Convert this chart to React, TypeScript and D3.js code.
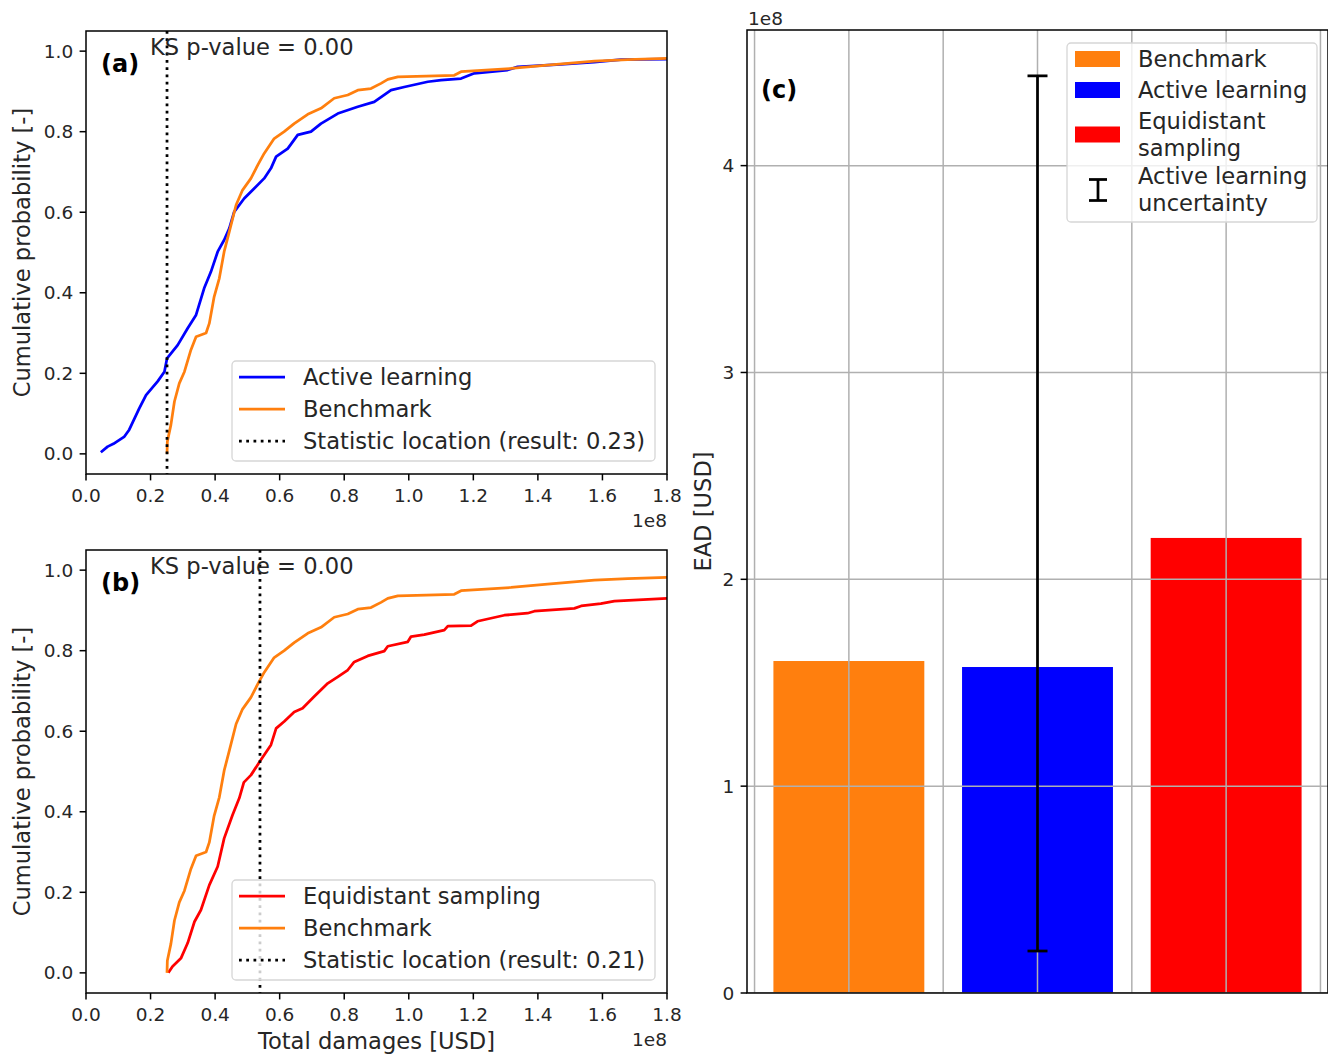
import React from "react";
import * as d3 from "d3";

// ---------- DATA ----------
// Empirical CDFs: [total damages (1e8 USD), cumulative probability]
const activeLearning: [number, number][] = [
  [0.046, 0.004], [0.067, 0.018], [0.085, 0.025], [0.119, 0.043], [0.134, 0.06],
  [0.165, 0.113], [0.186, 0.146], [0.222, 0.18], [0.243, 0.204], [0.251, 0.237],
  [0.284, 0.27], [0.315, 0.312], [0.341, 0.345], [0.366, 0.411], [0.387, 0.452],
  [0.408, 0.502], [0.428, 0.531], [0.444, 0.56], [0.459, 0.601], [0.49, 0.634],
  [0.521, 0.659], [0.552, 0.684], [0.573, 0.709], [0.589, 0.738], [0.625, 0.758],
  [0.656, 0.792], [0.697, 0.8], [0.728, 0.82], [0.78, 0.845], [0.842, 0.862],
  [0.893, 0.874], [0.945, 0.903], [0.986, 0.911], [1.059, 0.924], [1.1, 0.928],
  [1.162, 0.932], [1.203, 0.945], [1.306, 0.953], [1.337, 0.961], [1.471, 0.967],
  [1.575, 0.973], [1.657, 0.979], [1.8, 0.98],
];

const benchmark: [number, number][] = [
  [0.251, 0.0], [0.252, 0.03], [0.263, 0.072], [0.274, 0.13], [0.289, 0.175],
  [0.305, 0.204], [0.325, 0.258], [0.341, 0.291], [0.372, 0.3], [0.382, 0.324],
  [0.397, 0.39], [0.413, 0.436], [0.428, 0.502], [0.444, 0.552], [0.465, 0.618],
  [0.485, 0.655], [0.511, 0.684], [0.532, 0.717], [0.552, 0.746], [0.583, 0.783],
  [0.614, 0.8], [0.645, 0.82], [0.687, 0.843], [0.728, 0.858], [0.769, 0.883],
  [0.811, 0.891], [0.842, 0.903], [0.883, 0.907], [0.914, 0.92], [0.935, 0.93],
  [0.966, 0.936], [1.141, 0.94], [1.162, 0.949], [1.317, 0.957], [1.43, 0.965],
  [1.575, 0.975], [1.678, 0.979], [1.8, 0.982],
];

const equidistant: [number, number][] = [
  [0.255, 0.0], [0.268, 0.016], [0.294, 0.036], [0.315, 0.074], [0.336, 0.127],
  [0.356, 0.156], [0.382, 0.218], [0.408, 0.264], [0.428, 0.334], [0.454, 0.392],
  [0.475, 0.434], [0.489, 0.473], [0.511, 0.491], [0.542, 0.529], [0.573, 0.566],
  [0.589, 0.607], [0.614, 0.624], [0.645, 0.648], [0.671, 0.657], [0.707, 0.686],
  [0.749, 0.719], [0.78, 0.735], [0.811, 0.752], [0.831, 0.772], [0.873, 0.787],
  [0.924, 0.799], [0.935, 0.811], [0.997, 0.822], [1.007, 0.835], [1.048, 0.84],
  [1.11, 0.851], [1.121, 0.861], [1.193, 0.862], [1.213, 0.873], [1.296, 0.888],
  [1.368, 0.893], [1.389, 0.898], [1.513, 0.905], [1.534, 0.911], [1.595, 0.917],
  [1.637, 0.923], [1.8, 0.93],
];

const ksLocationA = 0.251; // 1e8 USD
const ksLocationB = 0.539;
const ksResultA = "0.23";
const ksResultB = "0.21";
const ksPValue = "0.00";

const xTicks = [0, 0.2, 0.4, 0.6, 0.8, 1.0, 1.2, 1.4, 1.6, 1.8];
const yTicks = [0, 0.2, 0.4, 0.6, 0.8, 1.0];

const barNames = ["Benchmark", "Active learning", "Equidistant sampling"];
const barValues = [1.605, 1.576, 2.2]; // 1e8 USD
const barColors = ["#ff7f0e", "#0000ff", "#ff0000"];
const errLow = 0.203; // 1e8 USD
const errHigh = 4.434;
const eadTicks = [0, 1, 2, 3, 4];
const eadGridX = [-0.5, 0, 0.5, 1, 1.5, 2, 2.5];

// ---------- STYLE ----------
const FONT = "DejaVu Sans";
const TICK_FS = 18.5;
const FS = 22.6;
const BOLD_FS = 24;
const LW = 2.75;
const SPINE = 1.5;
const TICKLEN = 6.4;

type Series = { data: [number, number][]; color: string; label: string };

function CdfPanel(props: {
  top: number;
  series: Series[];
  ks: number;
  ksResult: string;
  letter: string;
  xlabel?: string;
}) {
  const { top, series, ks, ksResult, letter, xlabel } = props;
  const left = 86;
  const right = 667;
  const bottom = top + 443;
  const x = d3.scaleLinear().domain([0, 1.8]).range([left, right]);
  const y = d3.scaleLinear().domain([-0.05, 1.05]).range([bottom, top]);
  const line = d3
    .line<[number, number]>()
    .x((d) => x(d[0]))
    .y((d) => y(d[1]));
  const clipId = "clip-" + letter;
  const legendTop = top + 330;
  const legendRows = [
    { kind: "line", color: series[0].color, label: series[0].label },
    { kind: "line", color: series[1].color, label: series[1].label },
    { kind: "dot", color: "#000", label: `Statistic location (result: ${ksResult})` },
  ];
  return (
    <g>
      <defs>
        <clipPath id={clipId}>
          <rect x={left} y={top} width={right - left} height={bottom - top} />
        </clipPath>
      </defs>
      <g clipPath={`url(#${clipId})`}>
        {series.map((s) => (
          <path
            key={s.label}
            d={line(s.data) || ""}
            fill="none"
            stroke={s.color}
            strokeWidth={LW}
            strokeLinejoin="round"
          />
        ))}
        <line
          x1={x(ks)}
          x2={x(ks)}
          y1={top}
          y2={bottom}
          stroke="#000"
          strokeWidth={LW}
          strokeDasharray="2.75,4.5"
        />
      </g>
      {/* spines */}
      <rect
        x={left}
        y={top}
        width={right - left}
        height={bottom - top}
        fill="none"
        stroke="#000"
        strokeWidth={SPINE}
      />
      {/* x ticks */}
      {xTicks.map((t) => (
        <g key={"x" + t}>
          <line x1={x(t)} x2={x(t)} y1={bottom} y2={bottom + TICKLEN} stroke="#000" strokeWidth={SPINE} />
          <text
            x={x(t)}
            y={bottom + TICKLEN + 15}
            textAnchor="middle"
            dominantBaseline="central"
            fontSize={TICK_FS}
            fontFamily={FONT}
            fill="#262626"
          >
            {t.toFixed(1)}
          </text>
        </g>
      ))}
      <text
        x={right}
        y={bottom + 46}
        textAnchor="end"
        dominantBaseline="central"
        fontSize={TICK_FS}
        fontFamily={FONT}
        fill="#262626"
      >
        1e8
      </text>
      {/* y ticks */}
      {yTicks.map((t) => (
        <g key={"y" + t}>
          <line x1={left - TICKLEN} x2={left} y1={y(t)} y2={y(t)} stroke="#000" strokeWidth={SPINE} />
          <text
            x={left - TICKLEN - 6.4}
            y={y(t)}
            textAnchor="end"
            dominantBaseline="central"
            fontSize={TICK_FS}
            fontFamily={FONT}
            fill="#262626"
          >
            {t.toFixed(1)}
          </text>
        </g>
      ))}
      <text
        transform={`translate(22,${(top + bottom) / 2}) rotate(-90)`}
        textAnchor="middle"
        dominantBaseline="central"
        fontSize={FS}
        fontFamily={FONT}
        fill="#262626"
      >
        Cumulative probability [-]
      </text>
      {xlabel && (
        <text
          x={(left + right) / 2}
          y={bottom + 48}
          textAnchor="middle"
          dominantBaseline="central"
          fontSize={FS}
          fontFamily={FONT}
          fill="#262626"
        >
          {xlabel}
        </text>
      )}
      {/* annotations */}
      <text x={101} y={top + 33} dominantBaseline="central" fontSize={BOLD_FS} fontWeight="bold" fontFamily={FONT} fill="#000">
        ({letter})
      </text>
      <text x={150} y={top + 16} dominantBaseline="central" fontSize={FS} fontFamily={FONT} fill="#262626">
        KS p-value = {ksPValue}
      </text>
      {/* legend */}
      <rect
        x={232}
        y={legendTop}
        width={423}
        height={100}
        rx={4}
        fill="#fff"
        fillOpacity={0.8}
        stroke="#d6d6d6"
        strokeWidth={1.3}
      />
      {legendRows.map((r, i) => {
        const cy = legendTop + 16 + i * 32;
        return (
          <g key={r.label}>
            <line
              x1={239}
              x2={285}
              y1={cy}
              y2={cy}
              stroke={r.color}
              strokeWidth={LW}
              strokeDasharray={r.kind === "dot" ? "2.75,4.5" : undefined}
            />
            <text x={303} y={cy} dominantBaseline="central" fontSize={FS} fontFamily={FONT} fill="#262626">
              {r.label}
            </text>
          </g>
        );
      })}
    </g>
  );
}

function BarPanel() {
  const left = 747;
  const right = 1328;
  const top = 30;
  const bottom = 993;
  const x = d3.scaleLinear().domain([-0.54, 2.54]).range([left, right]);
  const y = d3.scaleLinear().domain([0, errHigh * 1.05]).range([bottom, top]);
  const barW = x(0.8) - x(0);
  const legendRows = [
    { kind: "patch", color: barColors[0], lines: ["Benchmark"], cy: 59 },
    { kind: "patch", color: barColors[1], lines: ["Active learning"], cy: 90 },
    { kind: "patch", color: barColors[2], lines: ["Equidistant", "sampling"], cy: 134.5 },
    { kind: "err", color: "#000", lines: ["Active learning", "uncertainty"], cy: 189.5 },
  ];
  const LINE_H = 26.5;
  return (
    <g>
      <defs>
        <clipPath id="clip-c">
          <rect x={left} y={top} width={right - left} height={bottom - top} />
        </clipPath>
      </defs>
      <g clipPath="url(#clip-c)">
        {barValues.map((v, i) => (
          <rect
            key={barNames[i]}
            x={x(i) - barW / 2}
            y={y(v)}
            width={barW}
            height={y(0) - y(v)}
            fill={barColors[i]}
          />
        ))}
        {eadGridX.map((g) => (
          <line key={"gx" + g} x1={x(g)} x2={x(g)} y1={top} y2={bottom} stroke="#b0b0b0" strokeWidth={1.5} />
        ))}
        {eadTicks.map((t) => (
          <line key={"gy" + t} x1={left} x2={right} y1={y(t)} y2={y(t)} stroke="#b0b0b0" strokeWidth={1.5} />
        ))}
        {/* error bar */}
        <line x1={x(1)} x2={x(1)} y1={y(errLow)} y2={y(errHigh)} stroke="#000" strokeWidth={LW} />
        <line x1={x(1) - 10} x2={x(1) + 10} y1={y(errLow)} y2={y(errLow)} stroke="#000" strokeWidth={LW} />
        <line x1={x(1) - 10} x2={x(1) + 10} y1={y(errHigh)} y2={y(errHigh)} stroke="#000" strokeWidth={LW} />
      </g>
      <rect
        x={left}
        y={top}
        width={right - left}
        height={bottom - top}
        fill="none"
        stroke="#000"
        strokeWidth={SPINE}
      />
      {eadTicks.map((t) => (
        <g key={"t" + t}>
          <line x1={left - TICKLEN} x2={left} y1={y(t)} y2={y(t)} stroke="#000" strokeWidth={SPINE} />
          <text
            x={left - TICKLEN - 6.4}
            y={y(t)}
            textAnchor="end"
            dominantBaseline="central"
            fontSize={TICK_FS}
            fontFamily={FONT}
            fill="#262626"
          >
            {t}
          </text>
        </g>
      ))}
      <text x={748} y={18} dominantBaseline="central" fontSize={TICK_FS} fontFamily={FONT} fill="#262626">
        1e8
      </text>
      <text
        transform={`translate(703,${(top + bottom) / 2}) rotate(-90)`}
        textAnchor="middle"
        dominantBaseline="central"
        fontSize={FS}
        fontFamily={FONT}
        fill="#262626"
      >
        EAD [USD]
      </text>
      <text x={761} y={90} dominantBaseline="central" fontSize={BOLD_FS} fontWeight="bold" fontFamily={FONT} fill="#000">
        (c)
      </text>
      {/* legend */}
      <rect
        x={1067}
        y={43}
        width={250}
        height={179}
        rx={4}
        fill="#fff"
        fillOpacity={0.8}
        stroke="#d6d6d6"
        strokeWidth={1.3}
      />
      {legendRows.map((r) => {
        const firstY = r.cy - ((r.lines.length - 1) / 2) * LINE_H;
        return (
          <g key={r.lines.join(" ")}>
            {r.kind === "patch" ? (
              <rect x={1075} y={r.cy - 8} width={45} height={16} fill={r.color} />
            ) : (
              <g stroke="#000" strokeWidth={LW}>
                <line x1={1098} x2={1098} y1={r.cy - 10} y2={r.cy + 11} />
                <line x1={1089} x2={1107} y1={r.cy - 10} y2={r.cy - 10} />
                <line x1={1089} x2={1107} y1={r.cy + 11} y2={r.cy + 11} />
              </g>
            )}
            {r.lines.map((ln, j) => (
              <text
                key={ln}
                x={1138}
                y={firstY + j * LINE_H}
                dominantBaseline="central"
                fontSize={FS}
                fontFamily={FONT}
                fill="#262626"
              >
                {ln}
              </text>
            ))}
          </g>
        );
      })}
    </g>
  );
}

export default function App() {
  return (
    <svg
      width={1328}
      height={1055}
      style={{ position: "absolute", left: 0, top: 0, background: "#fff" }}
    >
      <rect x={0} y={0} width={1328} height={1055} fill="#fff" />
      <CdfPanel
        top={31}
        letter="a"
        ks={ksLocationA}
        ksResult={ksResultA}
        series={[
          { data: activeLearning, color: "#0000ff", label: "Active learning" },
          { data: benchmark, color: "#ff7f0e", label: "Benchmark" },
        ]}
      />
      <CdfPanel
        top={550}
        letter="b"
        ks={ksLocationB}
        ksResult={ksResultB}
        xlabel="Total damages [USD]"
        series={[
          { data: equidistant, color: "#ff0000", label: "Equidistant sampling" },
          { data: benchmark, color: "#ff7f0e", label: "Benchmark" },
        ]}
      />
      <BarPanel />
    </svg>
  );
}
